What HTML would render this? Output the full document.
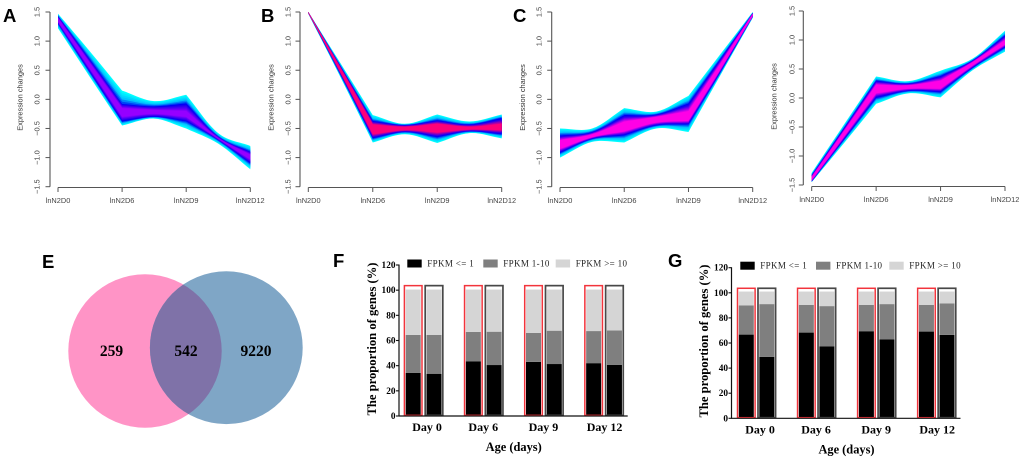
<!DOCTYPE html>
<html lang="en">
<head>
<meta charset="utf-8">
<title>Expression clusters, Venn diagram and FPKM proportions</title>
<style>
html,body{margin:0;padding:0;background:#fff;width:1020px;height:461px;overflow:hidden}
svg{display:block;filter:blur(0.35px)}
.sans{font-family:"Liberation Sans",sans-serif}
.serif{font-family:"Liberation Serif",serif}
.panel-letter{font-family:"Liberation Sans",sans-serif;font-weight:700;font-size:18.5px;fill:#000}
</style>
</head>
<body>
<svg id="figure" xmlns="http://www.w3.org/2000/svg" width="1020" height="461" viewBox="0 0 1020 461">
  <text class="panel-letter" x="3" y="22">A</text>
  <text class="panel-letter" x="261" y="22">B</text>
  <text class="panel-letter" x="513" y="22">C</text>
  <text class="panel-letter" x="42" y="268">E</text>
  <text class="panel-letter" x="333" y="267">F</text>
  <text class="panel-letter" x="668" y="267">G</text>

  <g>
    <defs>
      <clipPath id="pink-clip"><circle cx="145" cy="351" r="76.7"/></clipPath>
    </defs>
    <circle cx="145" cy="351" r="76.7" fill="#ff94c6"/>
    <circle cx="226.3" cy="347.7" r="76.4" fill="#7fa6c6"/>
    <circle cx="226.3" cy="347.7" r="76.4" fill="#7f72a8" clip-path="url(#pink-clip)"/>
    <text class="serif" x="111.5" y="356" font-size="15.5" font-weight="700" text-anchor="middle">259</text>
    <text class="serif" x="186" y="356" font-size="15.5" font-weight="700" text-anchor="middle">542</text>
    <text class="serif" x="256" y="356" font-size="15.5" font-weight="700" text-anchor="middle">9220</text>
  </g>
</svg>

<script>
// ---- Cluster line panels: expression values at D0, mid, D6, mid, D9, mid, D12 ----
const timeSteps = [0, 0.5, 1, 1.5, 2, 2.5, 3];
const clusterCategories = ['lnN2D0', 'lnN2D6', 'lnN2D9', 'lnN2D12'];
const expressionTicks = [-1.5, -1, -0.5, 0, 0.5, 1, 1.5];

const aOuterHi = [1.47, 0.82, 0.15, -0.03, 0.08, -0.58, -0.80];
const aOuterLo = [1.22, 0.38, -0.45, -0.33, -0.50, -0.76, -1.20];
const aMidHi   = [1.43, 0.68, -0.08, -0.12, -0.07, -0.64, -0.90];
const aMidLo   = [1.30, 0.46, -0.38, -0.30, -0.38, -0.70, -1.10];
const aCoreHi  = [1.40, 0.62, -0.15, -0.18, -0.20, -0.66, -0.95];
const aCoreLo  = [1.33, 0.52, -0.30, -0.25, -0.30, -0.68, -1.03];

const bOuterHi = [1.50, 0.62, -0.27, -0.42, -0.26, -0.38, -0.26];
const bOuterLo = [1.47, 0.38, -0.74, -0.60, -0.75, -0.58, -0.67];
const bMidHi   = [1.50, 0.57, -0.37, -0.44, -0.36, -0.43, -0.32];
const bMidLo   = [1.48, 0.42, -0.67, -0.56, -0.65, -0.55, -0.60];
const bCoreHi  = [1.50, 0.54, -0.43, -0.47, -0.42, -0.47, -0.42];
const bCoreLo  = [1.48, 0.46, -0.60, -0.53, -0.57, -0.52, -0.53];

const cOuterHi = [-0.50, -0.50, -0.15, -0.21, 0.06, 0.78, 1.50];
const cOuterLo = [-1.00, -0.73, -0.74, -0.50, -0.56, 0.42, 1.40];
const cMidHi   = [-0.62, -0.56, -0.27, -0.26, -0.07, 0.70, 1.48];
const cMidLo   = [-0.92, -0.68, -0.62, -0.45, -0.43, 0.47, 1.42];
const cCoreHi  = [-0.70, -0.60, -0.38, -0.30, -0.20, 0.62, 1.47];
const cCoreLo  = [-0.85, -0.65, -0.55, -0.40, -0.37, 0.52, 1.43];

const dOuterHi = [-1.29, -0.46, 0.37, 0.29, 0.47, 0.68, 1.16];
const dOuterLo = [-1.45, -0.78, -0.10, 0.08, 0.01, 0.48, 0.80];
const dMidHi   = [-1.33, -0.52, 0.30, 0.25, 0.38, 0.65, 1.08];
const dMidLo   = [-1.44, -0.72, 0.00, 0.12, 0.10, 0.52, 0.87];
const dCoreHi  = [-1.36, -0.57, 0.23, 0.22, 0.30, 0.62, 1.00];
const dCoreLo  = [-1.42, -0.67, 0.08, 0.16, 0.16, 0.56, 0.92];

// ---- Stacked bars: percent of genes per sample, two samples per day ----
const dayCategories = ['Day 0', 'Day 6', 'Day 9', 'Day 12'];
const percentTicks = [0, 20, 40, 60, 80, 100, 120];
const legendLabels = ['FPKM <= 1', 'FPKM 1-10', 'FPKM >= 10'];

const fRedLow  = [34.2, 43.5, 43.0, 42.0];
const fRedMid  = [30.2, 23.3, 23.0, 25.5];
const fRedHigh = [36.1, 33.7, 34.5, 33.0];
const fBlackLow  = [33.6, 40.5, 41.3, 40.7];
const fBlackMid  = [30.9, 26.5, 26.5, 27.3];
const fBlackHigh = [36.0, 33.5, 32.7, 32.5];

const gRedLow  = [66.7, 68.3, 69.4, 69.1];
const gRedMid  = [23.3, 22.1, 21.0, 21.3];
const gRedHigh = [11.0, 10.6, 10.6, 10.6];
const gBlackLow  = [49.0, 57.4, 62.8, 66.5];
const gBlackMid  = [42.0, 32.0, 28.2, 25.0];
const gBlackHigh = [10.0, 11.6, 10.0, 9.5];
const sampleFrameValue = 103.6;

// ---- Rendering ----
const SVG_NS = 'http://www.w3.org/2000/svg';
const root = document.getElementById('figure');
function make(tag, parent) {
  const el = document.createElementNS(SVG_NS, tag);
  (parent || root).appendChild(el);
  return el;
}
function setAll(el, props) {
  Object.keys(props).forEach(function (k) { el.setAttribute(k, props[k]); });
  return el;
}
function linear(d0, d1, r0, r1) {
  return function (v) { return r0 + (v - d0) * (r1 - r0) / (d1 - d0); };
}
function mix(a, b, t) {
  return a.map(function (v, i) { return v + (b[i] - v) * t; });
}
function rgb(c) {
  return 'rgb(' + c.map(function (v) { return Math.round(v); }).join(',') + ')';
}
// sharp at measured days, smooth through the between-day points
function curve(pts, reverse) {
  const p = reverse ? pts.slice().reverse() : pts;
  let d = '';
  for (let i = 0; i < p.length - 1; i++) {
    const a = p[i], b = p[i + 1];
    let c1, c2;
    if (i % 2 === 0) {
      const n = p[i + 2];
      c1 = [a[0] + (b[0] - a[0]) / 3, a[1] + (b[1] - a[1]) / 3];
      c2 = [b[0] - (n[0] - a[0]) / 6, b[1] - (n[1] - a[1]) / 6];
    } else {
      const m = p[i - 1];
      c1 = [a[0] + (b[0] - m[0]) / 6, a[1] + (b[1] - m[1]) / 6];
      c2 = [b[0] - (b[0] - a[0]) / 3, b[1] - (b[1] - a[1]) / 3];
    }
    d += 'C' + c1[0].toFixed(2) + ' ' + c1[1].toFixed(2) + ' ' + c2[0].toFixed(2) + ' ' + c2[1].toFixed(2) + ' ' + b[0].toFixed(2) + ' ' + b[1].toFixed(2);
  }
  return d;
}
function bandPath(hi, lo, x, y) {
  const top = hi.map(function (v, i) { return [x(timeSteps[i]), y(v)]; });
  const bot = lo.map(function (v, i) { return [x(timeSteps[i]), y(v)]; });
  const lastBot = bot[bot.length - 1];
  return 'M' + top[0][0].toFixed(2) + ' ' + top[0][1].toFixed(2) + curve(top, false) +
    'L' + lastBot[0].toFixed(2) + ' ' + lastBot[1].toFixed(2) + curve(bot, true) + 'Z';
}
function fmtTick(v) {
  const s = Math.abs(v).toFixed(1);
  return v < 0 ? '\u2212' + s : s;
}

function drawCluster(cfg) {
  const g = make('g');
  
  
  const x = linear(0, 3, cfg.x0, cfg.x3);
  const y = linear(-1.5, 1.5, cfg.yBottom, cfg.yTop);
  const cyan = [0, 255, 255], azure = [0, 195, 255], blue = [0, 0, 245], deep = [40, 0, 240];

  const bands = make('g', g);
  
  
  function layer(hi, lo, color) {
    const p = make('path', bands);
    
    
    setAll(p, { d: bandPath(hi, lo, x, y), fill: rgb(color) });
  }
  const outerSteps = 6, innerSteps = 7;
  for (let i = 0; i < outerSteps; i++) {
    const t = i / outerSteps;
    const col = t < 0.5 ? mix(cyan, azure, t * 2) : mix(azure, blue, (t - 0.5) * 2);
    layer(mix(cfg.outerHi, cfg.midHi, t), mix(cfg.outerLo, cfg.midLo, t), col);
  }
  for (let i = 0; i <= innerSteps; i++) {
    const t = i / innerSteps;
    const col = t < 0.25 ? mix(blue, deep, t * 4) : mix(deep, cfg.core, (t - 0.25) / 0.75);
    layer(mix(cfg.midHi, cfg.coreHi, t), mix(cfg.midLo, cfg.coreLo, t), col);
  }

  const axisColor = '#555';
  const yAxis = make('line', g);
  
  
  setAll(yAxis, { x1: cfg.axisX, x2: cfg.axisX, y1: y(1.5), y2: y(-1.5), stroke: axisColor, 'stroke-width': 1.1 });
  expressionTicks.forEach(function (v) {
    const t = make('line', g);
    
    
    setAll(t, { x1: cfg.axisX - 4.5, x2: cfg.axisX, y1: y(v), y2: y(v), stroke: axisColor, 'stroke-width': 1 });
    const lab = make('text', g);
    
    
    setAll(lab, { 'class': 'sans', 'font-size': 7.4, fill: '#444', 'text-anchor': 'middle',
      transform: 'translate(' + (cfg.tickX + 2.6) + ' ' + y(v) + ') rotate(-90)' });
    lab.textContent = fmtTick(v);
  });
  const title = make('text', g);
  
  
  setAll(title, { 'class': 'sans', 'font-size': 7.4, fill: '#333', 'text-anchor': 'middle',
    transform: 'translate(' + (cfg.titleX + 2.6) + ' ' + (cfg.yTop + 85.5) + ') rotate(-90)' });
  title.textContent = 'Expression changes';

  const xAxis = make('line', g);
  
  
  setAll(xAxis, { x1: x(0), x2: x(3), y1: cfg.axisY, y2: cfg.axisY, stroke: axisColor, 'stroke-width': 1.1 });
  clusterCategories.forEach(function (c, i) {
    const t = make('line', g);
    
    
    setAll(t, { x1: x(i), x2: x(i), y1: cfg.axisY, y2: cfg.axisY + 4.5, stroke: axisColor, 'stroke-width': 1 });
    const lab = make('text', g);
    
    
    setAll(lab, { 'class': 'sans', 'font-size': 7.4, fill: '#444', 'text-anchor': 'middle', x: x(i), y: cfg.labelY });
    lab.textContent = c;
  });
}

drawCluster({ id: 'a', x0: 58, x3: 250.3, yTop: 12, yBottom: 186.7, axisX: 50, axisY: 187.5, labelY: 203, tickX: 37, titleX: 20,
  core: [150, 0, 255], outerHi: aOuterHi, outerLo: aOuterLo, midHi: aMidHi, midLo: aMidLo, coreHi: aCoreHi, coreLo: aCoreLo });
drawCluster({ id: 'b', x0: 308.3, x3: 501.7, yTop: 12, yBottom: 186.7, axisX: 300, axisY: 187.5, labelY: 203, tickX: 287.7, titleX: 270.7,
  core: [255, 0, 120], outerHi: bOuterHi, outerLo: bOuterLo, midHi: bMidHi, midLo: bMidLo, coreHi: bCoreHi, coreLo: bCoreLo });
drawCluster({ id: 'c', x0: 560, x3: 752.7, yTop: 12, yBottom: 186.7, axisX: 551.7, axisY: 187.5, labelY: 203, tickX: 539, titleX: 522.3,
  core: [255, 0, 230], outerHi: cOuterHi, outerLo: cOuterLo, midHi: cMidHi, midLo: cMidLo, coreHi: cCoreHi, coreLo: cCoreLo });
drawCluster({ id: 'd', x0: 811.7, x3: 1005, yTop: 11, yBottom: 185, axisX: 803.3, axisY: 186.5, labelY: 202, tickX: 791.7, titleX: 774,
  core: [255, 0, 230], outerHi: dOuterHi, outerLo: dOuterLo, midHi: dMidHi, midLo: dMidLo, coreHi: dCoreHi, coreLo: dCoreLo });

const stackColors = ['#000000', '#7f7f7f', '#d5d5d5'];

function drawBars(cfg) {
  const g = make('g');
  
  
  const y = linear(0, 120, cfg.y0, cfg.y120);
  const groupX = function (i) { return cfg.firstLeft + i * cfg.step; };
  const boxW = 17.6, barW = 15;

  function drawSample(cx, low, mid, high, frameColor, frameWidth, side) {
    let base = 0;
    [low, mid, high].forEach(function (v, s) {
      const r = make('rect', g);
      
      
      setAll(r, { x: cx - barW / 2, y: y(base + v), width: barW, height: y(base) - y(base + v), fill: stackColors[s] });
      base += v;
    });
    const f = make('rect', g);
    
    
    setAll(f, { x: cx - boxW / 2, y: y(sampleFrameValue), width: boxW, height: y(0) - y(sampleFrameValue) - 0.6, fill: 'none', stroke: frameColor, 'stroke-width': frameWidth });
  }
  dayCategories.forEach(function (day, i) {
    drawSample(groupX(i), cfg.redLow[i], cfg.redMid[i], cfg.redHigh[i], '#f2343c', 1.5, 'red');
    drawSample(groupX(i) + cfg.pairGap, cfg.blackLow[i], cfg.blackMid[i], cfg.blackHigh[i], '#484848', 1.7, 'black');
    const lab = make('text', g);
    
    
    const shift = i === 0 ? 3.5 : (i === 3 ? 0.5 : -0.5);
    setAll(lab, { 'class': 'serif', 'font-size': 12, 'font-weight': 700, 'text-anchor': 'middle',
      x: groupX(i) + cfg.pairGap / 2 + shift, y: cfg.y0 + 15 });
    lab.textContent = day;
  });

  const yAxis = make('line', g);
  
  
  setAll(yAxis, { x1: cfg.axisX, x2: cfg.axisX, y1: y(120) - 0.5, y2: y(0) + 0.5, stroke: '#111', 'stroke-width': 1.2 });
  const xAxis = make('line', g);
  
  
  setAll(xAxis, { x1: cfg.axisX, x2: cfg.axisEnd, y1: y(0), y2: y(0), stroke: '#111', 'stroke-width': 1.2 });
  percentTicks.forEach(function (v) {
    const t = make('line', g);
    
    
    setAll(t, { x1: cfg.axisX - 3, x2: cfg.axisX, y1: y(v), y2: y(v), stroke: '#111', 'stroke-width': 1.1 });
    const lab = make('text', g);
    
    
    setAll(lab, { 'class': 'serif', 'font-size': 9.3, 'font-weight': 700, 'text-anchor': 'end', x: cfg.axisX - 3.5, y: y(v) + 3 });
    lab.textContent = String(v);
  });
  const yt = make('text', g);
  
  
  setAll(yt, { 'class': 'serif', 'font-size': 12.6, 'font-weight': 700, 'text-anchor': 'middle',
    transform: 'translate(' + cfg.titleX + ' ' + cfg.titleY + ') rotate(-90)' });
  yt.textContent = 'The proportion of genes (%)';
  const xt = make('text', g);
  
  
  setAll(xt, { 'class': 'serif', 'font-size': 12.4, 'font-weight': 700, 'text-anchor': 'middle', x: cfg.xTitleX, y: cfg.y0 + 35 });
  xt.textContent = 'Age (days)';

  legendLabels.forEach(function (label, i) {
    const s = make('rect', g);
    
    
    setAll(s, { x: cfg.legendX[i], y: cfg.legendY, width: 14.4, height: 8, fill: stackColors[i] });
    const t = make('text', g);
    
    
    setAll(t, { 'class': 'serif', 'font-size': 9, fill: '#222', x: cfg.legendX[i] + 20, y: cfg.legendY + 7, 'letter-spacing': 0.35 });
    t.textContent = label;
  });
}

drawBars({ id: 'f', y0: 416, y120: 265, axisX: 399, axisEnd: 627.7, firstLeft: 413.2, step: 60.15, pairGap: 20.8,
  titleX: 376, titleY: 339, xTitleX: 513.7, legendX: [407.3, 483.3, 555.7], legendY: 259.5,
  redLow: fRedLow, redMid: fRedMid, redHigh: fRedHigh, blackLow: fBlackLow, blackMid: fBlackMid, blackHigh: fBlackHigh });
drawBars({ id: 'g', y0: 418.3, y120: 267.7, axisX: 731.5, axisEnd: 960.5, firstLeft: 746.3, step: 60.05, pairGap: 20.5,
  titleX: 708, titleY: 341, xTitleX: 846.5, legendX: [740.3, 816, 889.3], legendY: 261.7,
  redLow: gRedLow, redMid: gRedMid, redHigh: gRedHigh, blackLow: gBlackLow, blackMid: gBlackMid, blackHigh: gBlackHigh });
</script>
</body>
</html>
